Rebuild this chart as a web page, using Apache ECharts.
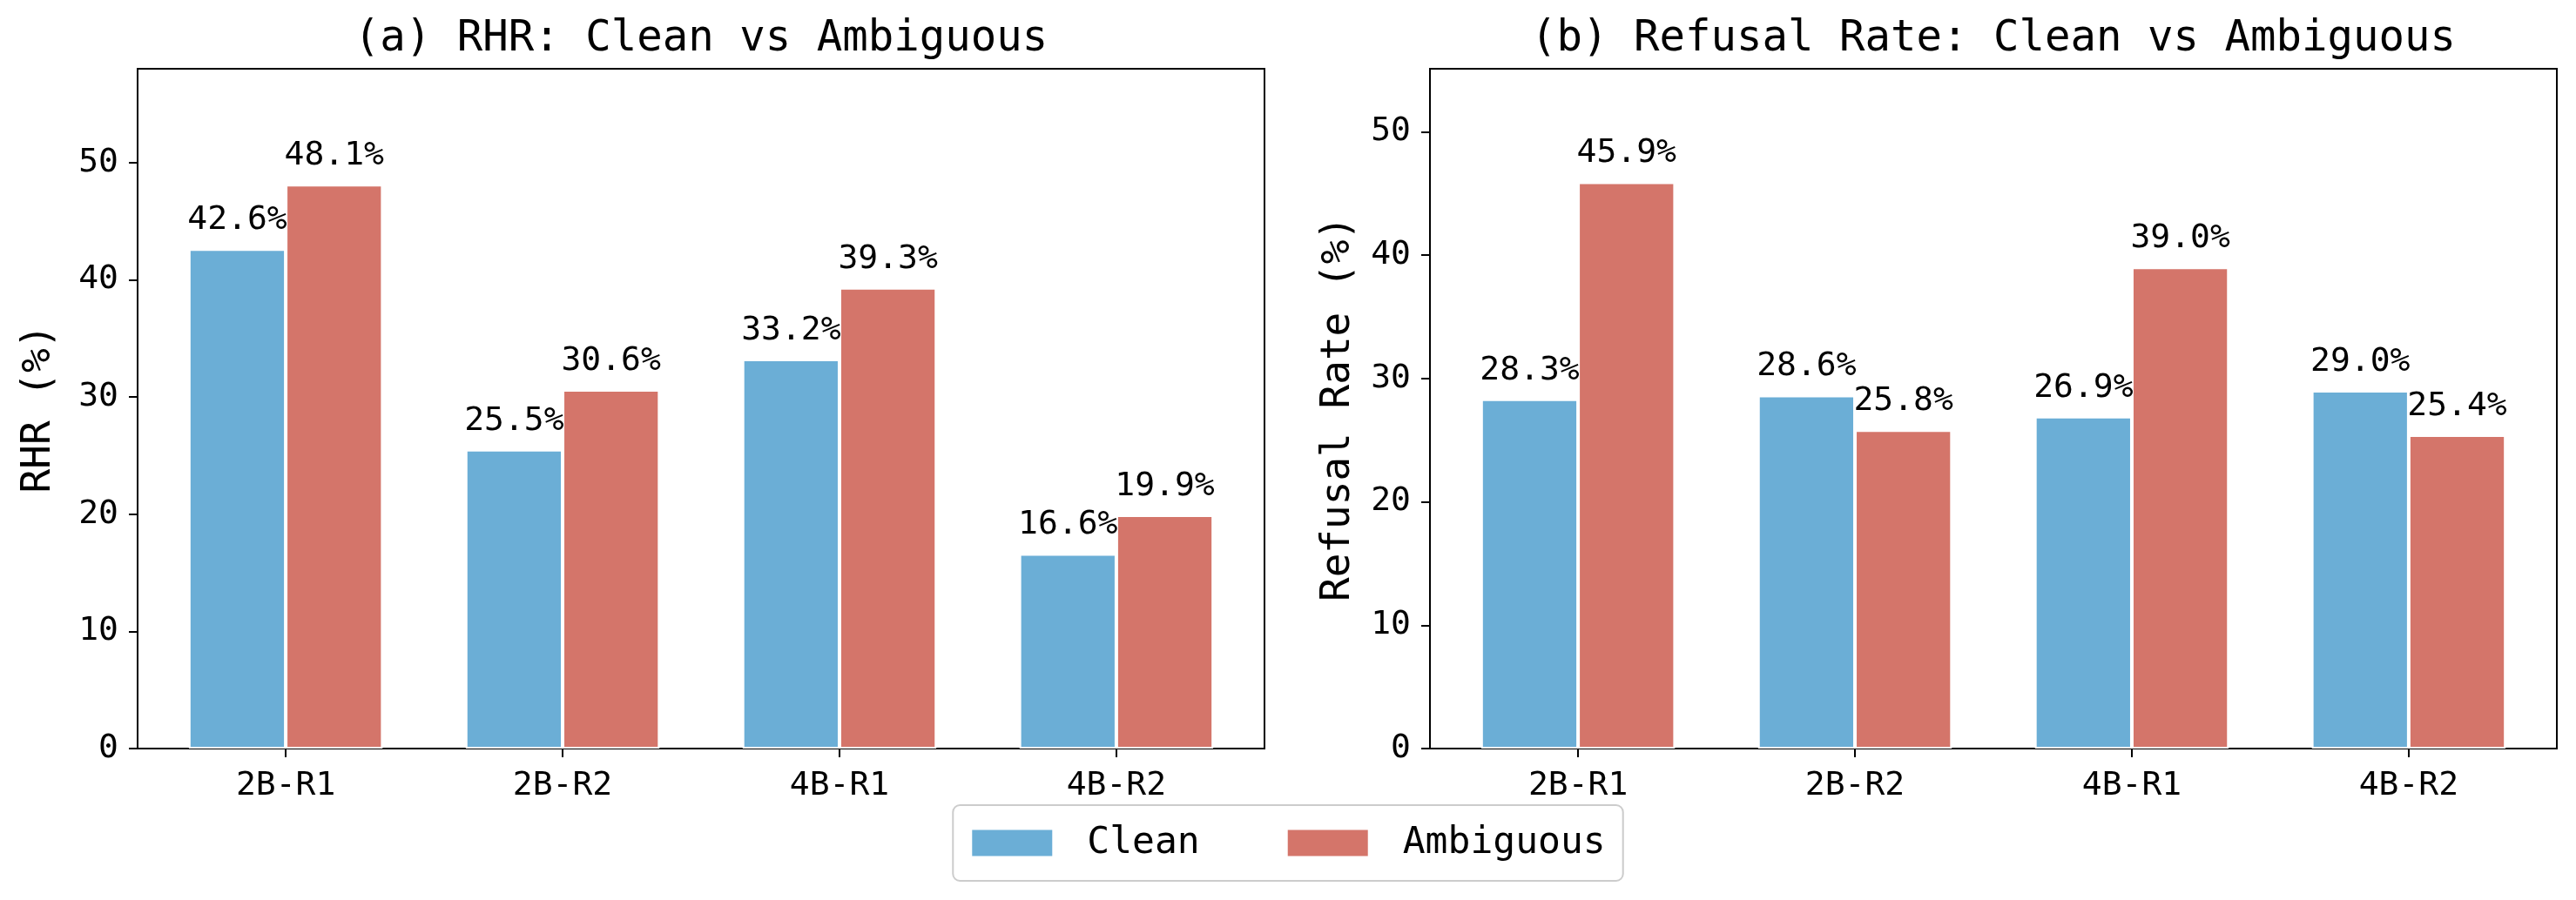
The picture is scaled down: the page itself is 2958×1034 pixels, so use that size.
<!DOCTYPE html>
<html>
<head>
<meta charset="utf-8">
<script src="https://cdn.jsdelivr.net/npm/echarts@6/dist/echarts.min.js"></script>
<style>
html,body{margin:0;padding:0;background:#fff;}
#chart{width:2958px;height:1034px;}
</style>
</head>
<body>
<div id="chart"></div>
<script>
var categories = ['2B-R1', '2B-R2', '4B-R1', '4B-R2'];
var rhrClean = [42.6, 25.5, 33.2, 16.6];
var rhrAmbiguous = [48.1, 30.6, 39.3, 19.9];
var refusalClean = [28.3, 28.6, 26.9, 29.0];
var refusalAmbiguous = [45.9, 25.8, 39.0, 25.4];
var yTicks = [0, 10, 20, 30, 40, 50];
var xTicks = [0, 1, 2, 3];
var titles = ['(a) RHR: Clean vs Ambiguous', '(b) Refusal Rate: Clean vs Ambiguous'];
var yNames = ['RHR (%)', 'Refusal Rate (%)'];
var seriesNames = ['Clean', 'Ambiguous'];

var FONT = 'DejaVu Sans Mono';
var BLUE = '#6baed6';
var RED = '#d4756a';

function pts(arr) { return arr.map(function (v, i) { return [i, v]; }); }

function xAxisFor(idx) {
  return {
    type: 'value', gridIndex: idx, min: -0.535, max: 3.535,
    axisLine: { show: false, onZero: false },
    splitLine: { show: false },
    axisTick: { show: true, customValues: xTicks, length: 10, lineStyle: { color: '#000', width: 2 } },
    axisLabel: {
      customValues: xTicks, margin: 24,
      fontFamily: FONT, fontSize: 38, color: '#000',
      formatter: function (v) { return categories[Math.round(v)] || ''; }
    }
  };
}
function yAxisFor(idx, max, gap) {
  return {
    type: 'value', gridIndex: idx, min: 0, max: max, interval: 10,
    name: yNames[idx], nameLocation: 'middle', nameRotate: 90, nameGap: gap,
    nameTextStyle: { fontFamily: FONT, fontSize: 46, color: '#000' },
    axisLine: { show: false, onZero: false },
    splitLine: { show: false },
    axisTick: { show: true, customValues: yTicks, length: 10, lineStyle: { color: '#000', width: 2 } },
    axisLabel: { customValues: yTicks, margin: 22, fontFamily: FONT, fontSize: 38, color: '#000' }
  };
}
function barSeries(name, data, idx, color) {
  return {
    type: 'bar', name: name, xAxisIndex: idx, yAxisIndex: idx,
    data: pts(data), barWidth: '35%', barGap: '0%',
    itemStyle: { color: color, borderColor: '#fff', borderWidth: 2 },
    label: {
      show: true, position: 'top', distance: 14,
      fontFamily: FONT, fontSize: 38, color: '#000',
      formatter: function (p) { return p.value[1].toFixed(1) + '%'; }
    },
    emphasis: { disabled: true }
  };
}

var chart = echarts.init(document.getElementById('chart'), null, { renderer: 'canvas' });
chart.setOption({
  animation: false,
  backgroundColor: '#fff',
  title: [
    { text: titles[0], left: 805, top: 21, textAlign: 'center', padding: 0,
      textStyle: { fontFamily: FONT, fontSize: 49, fontWeight: 'normal', color: '#000' } },
    { text: titles[1], left: 2289, top: 21, textAlign: 'center', padding: 0,
      textStyle: { fontFamily: FONT, fontSize: 49, fontWeight: 'normal', color: '#000' } }
  ],
  grid: [
    { left: 158, right: 1506, top: 79, bottom: 174, show: true, borderColor: '#000', borderWidth: 2, backgroundColor: 'transparent' },
    { left: 1642, right: 22, top: 79, bottom: 174, show: true, borderColor: '#000', borderWidth: 2, backgroundColor: 'transparent' }
  ],
  legend: {
    data: seriesNames, left: 'center', top: 925, orient: 'horizontal',
    itemWidth: 94, itemHeight: 32, itemGap: 99,
    padding: [22, 20, 22, 20],
    borderColor: '#cccccc', borderWidth: 2, borderRadius: 8,
    icon: 'rect',
    textStyle: { fontFamily: FONT, fontSize: 43, color: '#000', padding: [0, 0, 0, 34] },
    selectedMode: false
  },
  xAxis: [xAxisFor(0), xAxisFor(1)],
  yAxis: [yAxisFor(0, 58, 90), yAxisFor(1, 55.1, 82)],
  series: [
    barSeries(seriesNames[0], rhrClean, 0, BLUE),
    barSeries(seriesNames[1], rhrAmbiguous, 0, RED),
    barSeries(seriesNames[0], refusalClean, 1, BLUE),
    barSeries(seriesNames[1], refusalAmbiguous, 1, RED)
  ]
});
</script>
</body>
</html>
